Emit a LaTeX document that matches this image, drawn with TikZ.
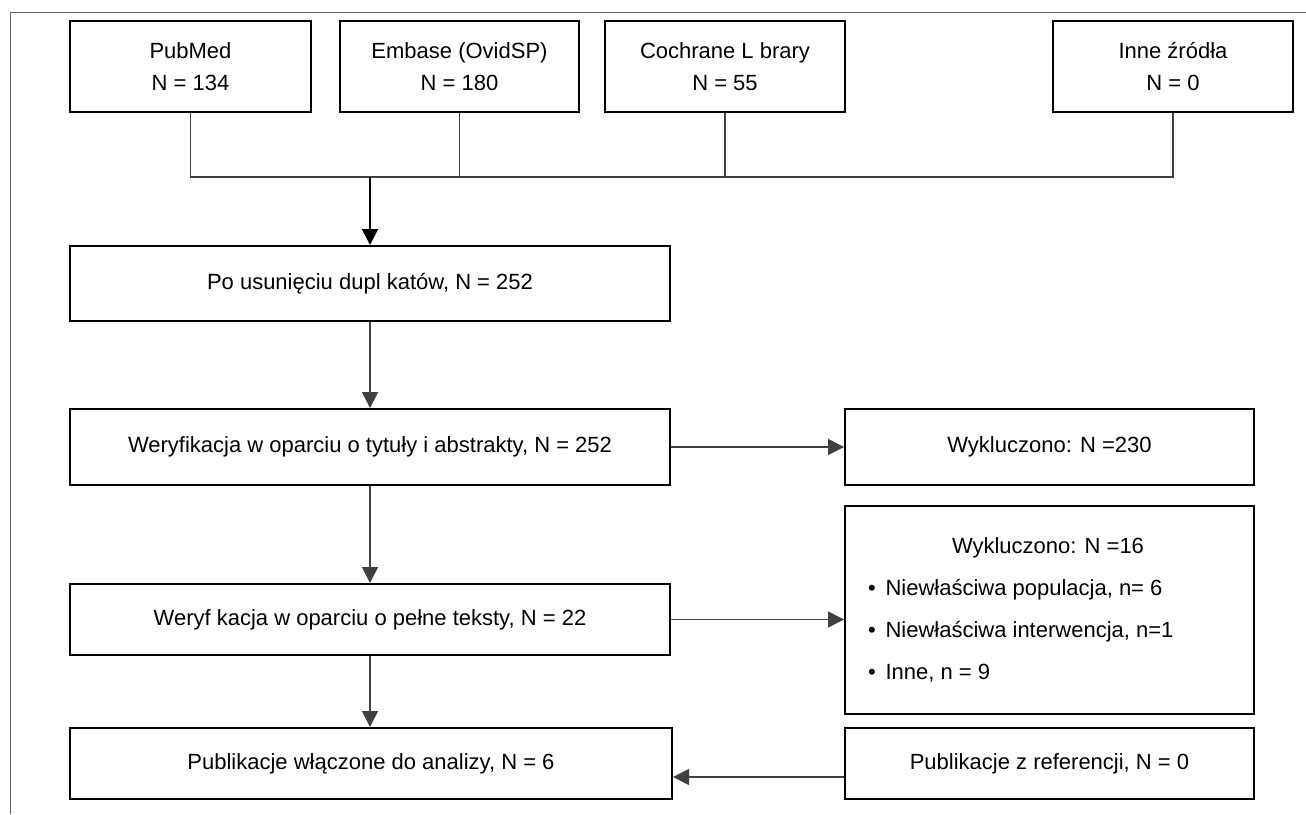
\documentclass[tikz,border=0pt]{standalone}
\usepackage{fontspec}
\setmainfont{Liberation Sans}
\usetikzlibrary{arrows.meta}
\begin{document}
\begin{tikzpicture}[x=1pt,y=-1pt,
  box/.style={draw=black,line width=2pt,rectangle,inner sep=0pt,align=center,
              font=\fontsize{22}{32}\selectfont},
  conn/.style={draw=black!75,line width=1.5pt},
  arr/.style={conn,-{Triangle[width=16pt,length=16pt]}},
  txt/.style={font=\fontsize{22}{26}\selectfont,inner sep=0pt}
]
\useasboundingbox (0,0) rectangle (1306,814);
% page frame
\draw[black!60,line width=1pt] (10,814) -- (10,12) -- (1306,12);

% sources
\node[box,minimum width=241pt,minimum height=91pt] (pub)  at (190.5,66.5) {PubMed\\N = 134};
\node[box,minimum width=239pt,minimum height=91pt] (emb)  at (459.5,66.5) {Embase (OvidSP)\\N = 180};
\node[box,minimum width=240pt,minimum height=91pt] (coch) at (725,66.5)   {Cochrane L brary\\N = 55};
\node[box,minimum width=240pt,minimum height=91pt] (inne) at (1173,66.5)  {Inne źródła\\N = 0};

% main flow
\node[box,minimum width=600pt,minimum height=75pt] (dup)  at (370,283.5) {Po usunięciu dupl katów, N = 252};
\node[box,minimum width=600pt,minimum height=76pt] (ver)  at (370,447)   {Weryfikacja w oparciu o tytuły i abstrakty, N = 252};
\node[box,minimum width=600pt,minimum height=71pt] (full) at (370,619.5) {Weryf kacja w oparciu o pełne teksty, N = 22};
\node[box,minimum width=602pt,minimum height=71pt] (inc)  at (371,763.5) {Publikacje włączone do analizy, N = 6};

% side boxes
\node[box,minimum width=409pt,minimum height=76pt]  (ex1) at (1049.5,447)   {Wykluczono: N =230};
\node[box,minimum width=409pt,minimum height=208pt] (ex2) at (1049.5,610)   {};
\node[box,minimum width=409pt,minimum height=71pt]  (ref) at (1049.5,763.5) {Publikacje z referencji, N = 0};

% contents of the exclusion box
\node[txt,anchor=base]      (ex2t) at (1048,553) {Wykluczono: N =16};
\node[txt,anchor=base west] (ex2a) at (868,595)  {•\hspace{9.6pt}Niewłaściwa populacja, n= 6};
\node[txt,anchor=base west] (ex2b) at (868,637)  {•\hspace{9.6pt}Niewłaściwa interwencja, n=1};
\node[txt,anchor=base west] (ex2c) at (868,679)  {•\hspace{9.6pt}Inne, n = 9};

% connectors
\coordinate (bus) at (370,177);
\draw[conn] (pub.south) |- (bus) -| (inne.south);
\draw[conn] (emb.south) -- (emb.south |- bus);
\draw[conn] (coch.south) -- (coch.south |- bus);
\draw[arr,draw=black,line width=2pt] (bus) -- (dup.north);
\draw[arr] (dup.south) -- (ver.north);
\draw[arr] (ver.east) -- (ex1.west);
\draw[arr] (ver.south) -- (full.north);
\draw[arr] (full.east) -- (full.east -| ex2.west);
\draw[arr] (full.south) -- (full.south |- inc.north);
\coordinate (rp) at ([yshift=-13.5pt]ref.west);
\draw[arr] (rp) -- (rp -| inc.east);
\end{tikzpicture}
\end{document}
